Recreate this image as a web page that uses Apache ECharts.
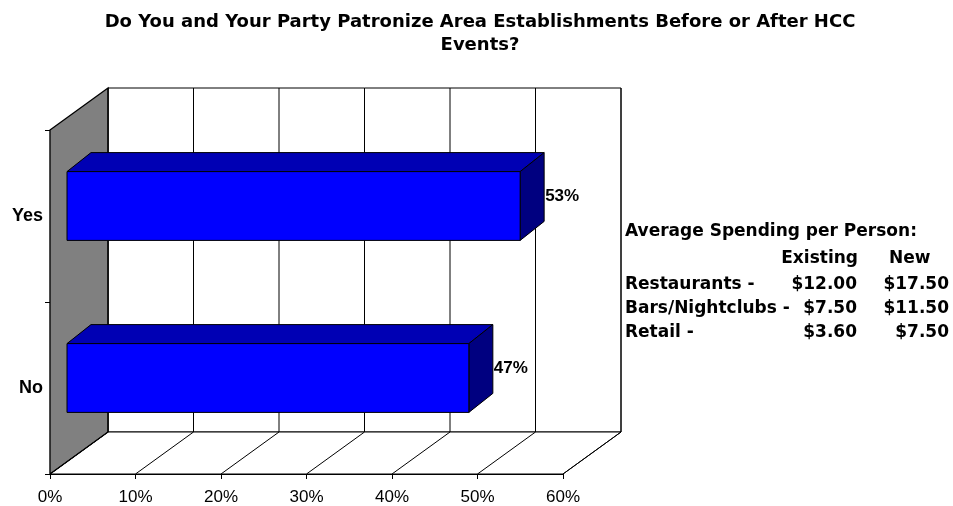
<!DOCTYPE html>
<html>
<head>
<meta charset="utf-8">
<title>HCC Events</title>
<script src="https://cdn.jsdelivr.net/npm/echarts@6/dist/echarts.min.js"></script>
<style>
  html, body { margin: 0; padding: 0; background: #fff; }
  #chart { width: 953px; height: 506px; }
</style>
</head>
<body>
<div id="chart"></div>
<script>
// data
const categories = ['No', 'Yes'];
const shares = [47, 53];
const xTicks = [0, 10, 20, 30, 40, 50, 60];
const spendTitle = 'Average Spending per Person:';
const spendHeaders = ['Existing', 'New'];
const spendRows = ['Restaurants -', 'Bars/Nightclubs -', 'Retail -'];
const spendExisting = ['$12.00', '$7.50', '$3.60'];
const spendNew = ['$17.50', '$11.50', '$7.50'];

// pseudo 3d offsets (px)
const WALL_DX = 58, WALL_DY = -42;   // depth of the box
const BAR_OX = 17, BAR_OY = -10;     // bar front plane inside the box
const BAR_DX = 24, BAR_DY = -19;     // bar depth

const FONT = 'Liberation Sans, Arial, sans-serif';
const WIDE = 'DejaVu Sans, Liberation Sans, sans-serif';
const chart = echarts.init(document.getElementById('chart'));

function renderFrame(params, api) {
  const cs = params.coordSys;
  const x0 = cs.x, x1 = cs.x + cs.width, yT = cs.y, yB = cs.y + cs.height;
  const line = { stroke: '#000', lineWidth: 1 };
  const kids = [
    { type: 'polygon', shape: { points: [[x0 + WALL_DX, yT + WALL_DY], [x1 + WALL_DX, yT + WALL_DY], [x1 + WALL_DX, yB + WALL_DY], [x0 + WALL_DX, yB + WALL_DY]] },
      style: { fill: '#fff', stroke: '#000', lineWidth: 1 } },
    { type: 'polygon', shape: { points: [[x0, yB], [x1, yB], [x1 + WALL_DX, yB + WALL_DY], [x0 + WALL_DX, yB + WALL_DY]] },
      style: { fill: '#fff', stroke: '#000', lineWidth: 1 } },
    { type: 'polygon', shape: { points: [[x0, yT], [x0 + WALL_DX, yT + WALL_DY], [x0 + WALL_DX, yB + WALL_DY], [x0, yB]] },
      style: { fill: '#808080', stroke: '#000', lineWidth: 1.3 } }
  ];
  xTicks.forEach(function (t) {
    const x = api.coord([t, 0])[0];
    kids.push({ type: 'line', shape: { x1: x + WALL_DX, y1: yT + WALL_DY, x2: x + WALL_DX, y2: yB + WALL_DY }, style: line });
    kids.push({ type: 'line', shape: { x1: x, y1: yB, x2: x + WALL_DX, y2: yB + WALL_DY }, style: line });
  });
  return { type: 'group', children: kids };
}

function renderBar(params, api) {
  const cat = api.value(1);
  const base = api.coord([0, cat]);
  const end = api.coord([api.value(0), cat]);
  const h = api.size([0, 1])[1] * 0.4;
  const xa = base[0] + BAR_OX, xb = end[0] + BAR_OX;
  const yc = base[1] + BAR_OY;
  const top = yc - h / 2, bot = yc + h / 2;
  const edge = { stroke: '#000', lineWidth: 1 };
  return {
    type: 'group',
    children: [
      { type: 'polygon', shape: { points: [[xa, top], [xb, top], [xb + BAR_DX, top + BAR_DY], [xa + BAR_DX, top + BAR_DY]] },
        style: Object.assign({ fill: '#0000B4' }, edge) },
      { type: 'polygon', shape: { points: [[xb, top], [xb + BAR_DX, top + BAR_DY], [xb + BAR_DX, bot + BAR_DY], [xb, bot]] },
        style: Object.assign({ fill: '#000080' }, edge) },
      { type: 'rect', shape: { x: xa, y: top, width: xb - xa, height: bot - top },
        style: Object.assign({ fill: '#0000FF' }, edge) },
      { type: 'text', x: xb + BAR_DX + 1, y: (top + BAR_DY + bot) / 2,
        style: { text: api.value(0) + '%', font: 'bold 17px ' + FONT, fill: '#000', verticalAlign: 'middle', align: 'left' } }
    ]
  };
}

// side table
const tableFont = 'bold 17px ' + WIDE;
const graphics = [
  { type: 'text', x: 625, y: 232, style: { text: spendTitle, font: tableFont, fill: '#000', align: 'left', verticalAlign: 'middle' } }
];
graphics.push({ type: 'text', x: 858, y: 259, style: { text: spendHeaders[0], font: tableFont, fill: '#000', align: 'right', verticalAlign: 'middle' } });
graphics.push({ type: 'text', x: 889, y: 259, style: { text: spendHeaders[1], font: tableFont, fill: '#000', align: 'left', verticalAlign: 'middle' } });
spendRows.forEach(function (r, i) {
  const y = 285 + i * 24;
  graphics.push({ type: 'text', x: 625, y: y, style: { text: r, font: tableFont, fill: '#000', align: 'left', verticalAlign: 'middle' } });
  graphics.push({ type: 'text', x: 857, y: y, style: { text: spendExisting[i], font: tableFont, fill: '#000', align: 'right', verticalAlign: 'middle' } });
  graphics.push({ type: 'text', x: 949, y: y, style: { text: spendNew[i], font: tableFont, fill: '#000', align: 'right', verticalAlign: 'middle' } });
});

chart.setOption({
  animation: false,
  title: {
    text: 'Do You and Your Party Patronize Area Establishments Before or After HCC\nEvents?',
    left: 475, top: 6, textAlign: 'center',
    textStyle: { fontFamily: WIDE, fontWeight: 'bold', fontSize: 18, lineHeight: 23, color: '#000' }
  },
  grid: { left: 50, right: 390, top: 130, bottom: 31 },
  xAxis: {
    type: 'value', min: 0, max: 60, interval: 10,
    axisLine: { show: true, lineStyle: { color: '#000', width: 1 } },
    axisTick: { show: true, length: 5, lineStyle: { color: '#000' } },
    axisLabel: { margin: 15, fontFamily: FONT, fontSize: 17, color: '#000', formatter: '{value}%' },
    splitLine: { show: false }
  },
  yAxis: {
    type: 'category', data: categories,
    axisLine: { show: true, lineStyle: { color: '#000', width: 1.3 } },
    axisTick: { show: true, length: 5, lineStyle: { color: '#000' } },
    axisLabel: { margin: 7, fontFamily: FONT, fontSize: 18, fontWeight: 'bold', color: '#000' }
  },
  graphic: graphics,
  series: [
    { type: 'custom', name: 'frame', renderItem: renderFrame, data: [[0, 0]], z: 1, silent: true },
    { type: 'custom', name: 'share', renderItem: renderBar, encode: { x: 0, y: 1 },
      data: shares.map(function (v, i) { return [v, i]; }), z: 3 }
  ]
});
</script>
</body>
</html>
